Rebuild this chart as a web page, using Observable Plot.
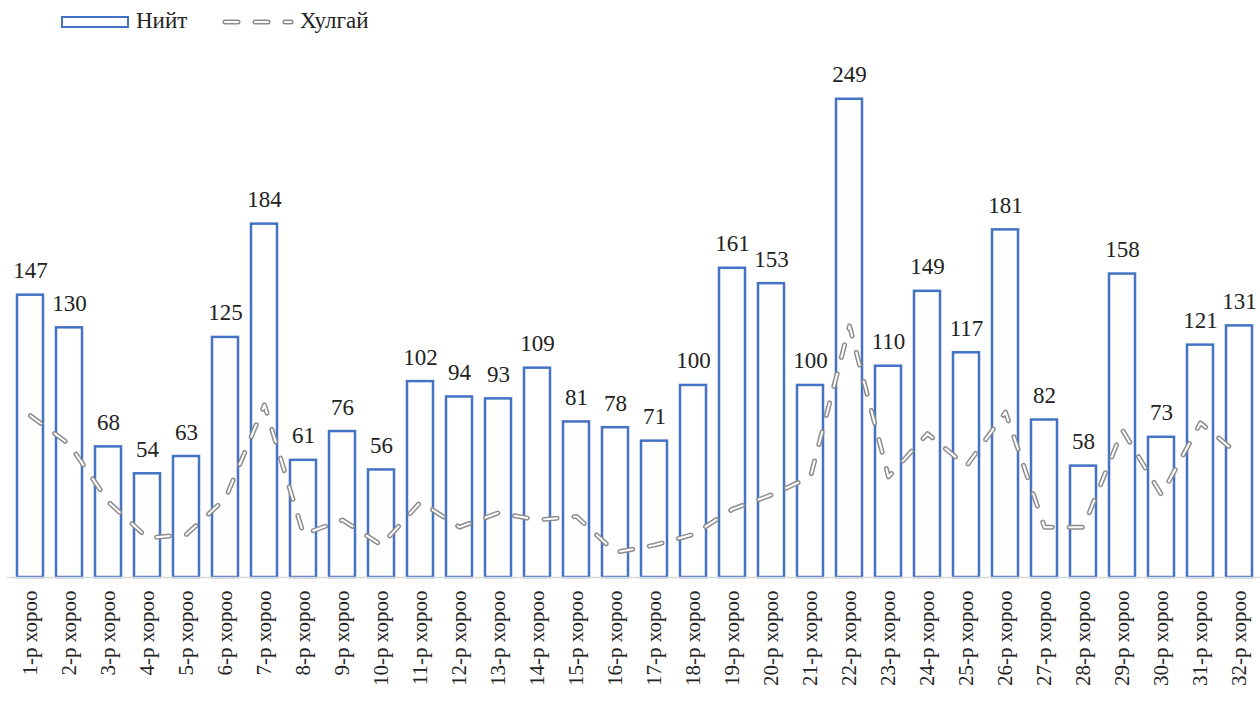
<!DOCTYPE html>
<html><head><meta charset="utf-8">
<script src="https://cdn.jsdelivr.net/npm/d3@7"></script>
<script src="https://cdn.jsdelivr.net/npm/@observablehq/plot@0.6"></script>
<style>
body{margin:0;background:#fff;width:1260px;height:701px;overflow:hidden;font-family:"Liberation Serif","Tinos","Nimbus Roman","Nimbus Roman No9 L","FreeSerif","Noto Serif","DejaVu Serif",serif;}
#legend{position:relative;height:45px;}
#legend span{position:absolute;top:8px;font-size:23px;line-height:26px;color:#222;}
#chart svg{overflow:visible;display:block;}
#chart svg text{font-family:"Liberation Serif","Tinos","Nimbus Roman","Nimbus Roman No9 L","FreeSerif","Noto Serif","DejaVu Serif",serif;}
</style></head><body>
<div id="legend">
  <div style="position:absolute;left:61px;top:16px;width:64px;height:8px;border:2.5px solid #4472C4;"></div>
  <span style="left:136px">Нийт</span>
  <svg style="position:absolute;left:215px;top:10px" width="85" height="25">
    <line x1="10" y1="12" x2="76" y2="12" stroke="#8c8c8c" stroke-width="5" stroke-dasharray="13,17" stroke-linecap="round"/>
    <line x1="10" y1="12" x2="76" y2="12" stroke="#fff" stroke-width="2" stroke-dasharray="13,17" stroke-linecap="round"/>
  </svg>
  <span style="left:300px">Хулгай</span>
</div>
<div id="chart"></div>
<script>
const districts = ["1-р хороо","2-р хороо","3-р хороо","4-р хороо","5-р хороо","6-р хороо","7-р хороо","8-р хороо","9-р хороо","10-р хороо","11-р хороо","12-р хороо","13-р хороо","14-р хороо","15-р хороо","16-р хороо","17-р хороо","18-р хороо","19-р хороо","20-р хороо","21-р хороо","22-р хороо","23-р хороо","24-р хороо","25-р хороо","26-р хороо","27-р хороо","28-р хороо","29-р хороо","30-р хороо","31-р хороо","32-р хороо"];
const total = [147,130,68,54,63,125,184,61,76,56,102,94,93,109,81,78,71,100,161,153,100,249,110,149,117,181,82,58,158,73,121,131];
const theft = [45,37,21,11,12,22,48,12,16,9,21,14,18,16,17,7,9,12,19,23,28,70,28,40,31,46,14,14,41,23,43,34];

// primary and secondary (hidden) axis maxima
const yMax = 277;
const y2Max = 148;

const barData = districts.map((d, i) => ({district: d, value: total[i]}));
const lineData = districts.map((d, i) => ({district: d, value: theft[i] * yMax / y2Max}));

const dash = "13,17";

const chart = Plot.plot({
  width: 1260,
  height: 656,
  marginLeft: 7,
  marginRight: -3,
  marginTop: 0,
  marginBottom: 124,
  style: {color: "#222", background: "#fff"},
  x: {domain: districts, paddingInner: 0.33, paddingOuter: 0.165, label: null},
  y: {domain: [0, yMax], axis: null},
  marks: [
    Plot.barY(barData, {x: "district", y: "value", fill: "#fff", stroke: "#4472C4", strokeWidth: 2.5}),
    Plot.ruleY([0], {stroke: "#d9d9d9", strokeWidth: 1.5}),
    Plot.text(barData, {x: "district", y: "value", text: d => String(d.value), dy: -17, lineAnchor: "bottom", fontSize: 23, fill: "#222"}),
    Plot.line(lineData, {x: "district", y: "value", stroke: "#8c8c8c", strokeWidth: 5, strokeDasharray: dash, strokeLinecap: "round", strokeLinejoin: "round"}),
    Plot.line(lineData, {x: "district", y: "value", stroke: "#fff", strokeWidth: 2, strokeDasharray: dash, strokeLinecap: "round", strokeLinejoin: "round"}),
    Plot.axisX({tickRotate: -90, tickSize: 0, tickPadding: 13, fontSize: 21, label: null, fill: "#222"})
  ]
});
document.getElementById("chart").appendChild(chart);
</script>
</body></html>
